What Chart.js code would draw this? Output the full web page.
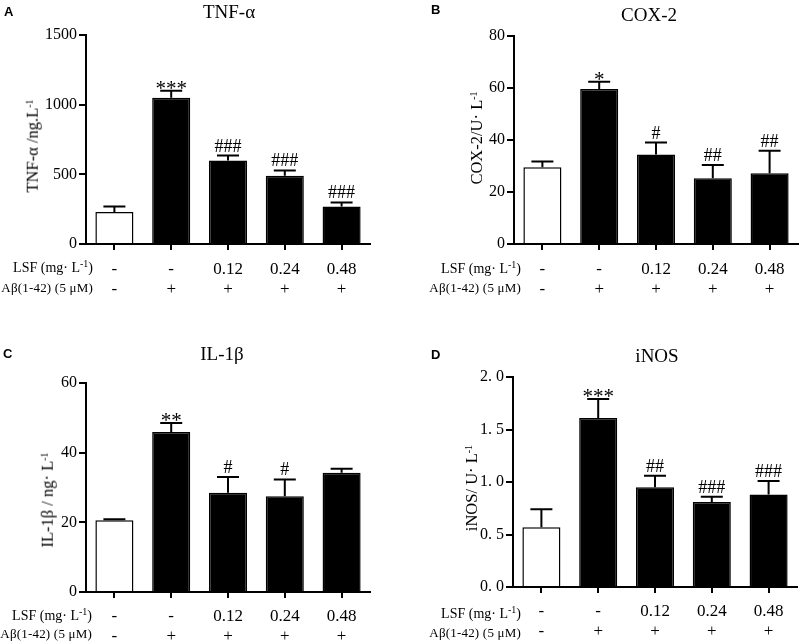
<!DOCTYPE html>
<html>
<head>
<meta charset="utf-8">
<script src="https://cdn.jsdelivr.net/npm/chart.js@4.4.0/dist/chart.umd.min.js"></script>
<style>
  body { margin: 0; background: #fff; }
  #wrap { position: relative; width: 800px; height: 644px; font-family: 'Liberation Serif', serif; color: #000; }
  canvas { position: absolute; }
  .txt { position: absolute; white-space: nowrap; line-height: 1; }
  .letter { font-family: 'Liberation Sans', Arial, sans-serif; font-weight: bold; font-size: 13px; }
  .title { font-size: 19px; transform: translate(-50%, -50%); }
  .ylab { font-size: 16.5px; transform: translate(-50%, -50%) rotate(-90deg); }
  .row { font-size: 14px; transform: translate(-100%, -50%); }
  .ab { font-size: 13px; letter-spacing: 0.2px; }
  sup { font-size: 10px; vertical-align: 5px; line-height: 0; }
</style>
</head>
<body>
<div id="wrap">
  <canvas id="cA" width="400" height="322" style="left:0;top:0"></canvas>
  <canvas id="cB" width="400" height="322" style="left:400px;top:0"></canvas>
  <canvas id="cC" width="400" height="322" style="left:0;top:322px"></canvas>
  <canvas id="cD" width="400" height="322" style="left:400px;top:322px"></canvas>

  <div class="txt letter" style="left:4px;top:5px">A</div>
  <div class="txt title" style="left:229px;top:11px">TNF-α</div>
  <div class="txt ylab" style="left:33px;top:146px">TNF-α /ng.L<sup>-1</sup></div>
  <div class="txt row" style="left:93px;top:268px">LSF (mg· L<sup>-1</sup>)</div>
  <div class="txt row ab" style="left:93px;top:287px">Aβ(1-42) (5 μM)</div>

  <div class="txt letter" style="left:431px;top:3px">B</div>
  <div class="txt title" style="left:649px;top:14px">COX-2</div>
  <div class="txt ylab" style="left:477px;top:138px">COX-2/U· L<sup>-1</sup></div>
  <div class="txt row" style="left:521px;top:269px">LSF (mg· L<sup>-1</sup>)</div>
  <div class="txt row ab" style="left:521px;top:287px">Aβ(1-42) (5 μM)</div>

  <div class="txt letter" style="left:3px;top:347px">C</div>
  <div class="txt title" style="left:222px;top:353px">IL-1β</div>
  <div class="txt ylab" style="left:48px;top:500px">IL-1β / ng· L<sup>-1</sup></div>
  <div class="txt row" style="left:92px;top:616px">LSF (mg· L<sup>-1</sup>)</div>
  <div class="txt row ab" style="left:92px;top:633px">Aβ(1-42) (5 μM)</div>

  <div class="txt letter" style="left:431px;top:348px">D</div>
  <div class="txt title" style="left:657px;top:355px">iNOS</div>
  <div class="txt ylab" style="left:472px;top:488px">iNOS/ U· L<sup>-1</sup></div>
  <div class="txt row" style="left:521px;top:614px">LSF (mg· L<sup>-1</sup>)</div>
  <div class="txt row ab" style="left:521px;top:632px">Aβ(1-42) (5 μM)</div>
</div>
<script>
// groups: LSF dose / Abeta
const groups = [['-', '-'], ['-', '+'], ['0.12', '+'], ['0.24', '+'], ['0.48', '+']];

const tnfMean = [230, 1050, 600, 490, 270];
const tnfErr = [40, 50, 35, 38, 28];
const tnfMarks = ['', '***', '###', '###', '###'];
const tnfTicks = ['0', '500', '1000', '1500'];

const coxMean = [29.5, 59.6, 34.4, 25.3, 27.2];
const coxErr = [2.2, 2.8, 4.6, 5.1, 8.7];
const coxMarks = ['', '*', '#', '##', '##'];
const coxTicks = ['0', '20', '40', '60', '80'];

const ilMean = [20.6, 45.9, 28.5, 27.5, 34.2];
const ilErr = [0.3, 2.6, 4.5, 4.8, 1.2];
const ilMarks = ['', '**', '#', '#', ''];
const ilTicks = ['0', '20', '40', '60'];

const inosMean = [0.57, 1.61, 0.95, 0.81, 0.88];
const inosErr = [0.17, 0.18, 0.11, 0.05, 0.13];
const inosMarks = ['', '***', '##', '###', '###'];
const inosTicks = ['0. 0', '0. 5', '1. 0', '1. 5', '2. 0'];

const serif = "'Liberation Serif', 'Times New Roman', serif";

// upward SEM whiskers + significance marks
const errorBars = {
    id: 'errorBars',
    afterDatasetsDraw(chart, args, opts) {
        const ctx = chart.ctx;
        const y = chart.scales.y;
        const meta = chart.getDatasetMeta(0);
        ctx.save();
        ctx.strokeStyle = '#000';
        ctx.fillStyle = '#000';
        ctx.lineWidth = 2;
        meta.data.forEach((bar, i) => {
            const top = y.getPixelForValue(opts.means[i] + opts.errs[i]);
            ctx.beginPath();
            ctx.moveTo(bar.x, bar.y);
            ctx.lineTo(bar.x, top);
            ctx.moveTo(bar.x - 11, top);
            ctx.lineTo(bar.x + 11, top);
            ctx.stroke();
            if (opts.marks[i]) {
                const star = opts.marks[i][0] === '*';
                ctx.font = (star ? '21px ' : '18px ') + serif;
                ctx.textAlign = 'center';
                ctx.textBaseline = 'alphabetic';
                ctx.fillText(opts.marks[i], bar.x, top - (star ? -4 : 4));
            }
        });
        ctx.restore();
    }
};

function makePanel(id, means, errs, marks, ticks, max, step, area) {
    const xH = 50;
    new Chart(document.getElementById(id), {
        type: 'bar',
        data: {
            labels: groups,
            datasets: [{
                data: means,
                backgroundColor: ['#fff', '#000', '#000', '#000', '#000'],
                borderColor: '#000',
                borderWidth: 1.5,
                categoryPercentage: 1,
                barPercentage: 0.67
            }]
        },
        options: {
            responsive: false,
            animation: false,
            layout: {
                padding: { left: 0, right: 400 - area.right, top: area.top, bottom: 322 - area.bottom - xH }
            },
            plugins: {
                legend: { display: false },
                tooltip: { enabled: false },
                errorBars: { means, errs, marks }
            },
            scales: {
                x: {
                    grid: { offset: false, drawOnChartArea: false, color: '#000', lineWidth: 2, tickLength: 6 },
                    border: { color: '#000', width: 2 },
                    ticks: { color: '#000', font: { family: serif, size: 17 }, padding: area.pad, maxRotation: 0, autoSkip: false },
                    afterFit(s) { s.height = xH; }
                },
                y: {
                    min: 0,
                    max: max,
                    grid: { drawOnChartArea: false, color: '#000', lineWidth: 2, tickLength: 7 },
                    border: { color: '#000', width: 2 },
                    ticks: {
                        stepSize: step, color: '#000', padding: 2,
                        font: { family: serif, size: 16 },
                        callback: (v, i) => ticks[i]
                    },
                    afterFit(s) { s.width = area.left; }
                }
            }
        },
        plugins: [errorBars]
    });
}

makePanel('cA', tnfMean, tnfErr, tnfMarks, tnfTicks, 1500, 500, { left: 86, right: 370, top: 35, bottom: 244, pad: 9 });
makePanel('cB', coxMean, coxErr, coxMarks, coxTicks, 80, 20, { left: 114, right: 398, top: 36, bottom: 244, pad: 9 });
makePanel('cC', ilMean, ilErr, ilMarks, ilTicks, 60, 20, { left: 86, right: 370, top: 61, bottom: 270, pad: 8 });
makePanel('cD', inosMean, inosErr, inosMarks, inosTicks, 2, 0.5, { left: 113, right: 397, top: 55, bottom: 265, pad: 8 });
</script>
</body>
</html>
